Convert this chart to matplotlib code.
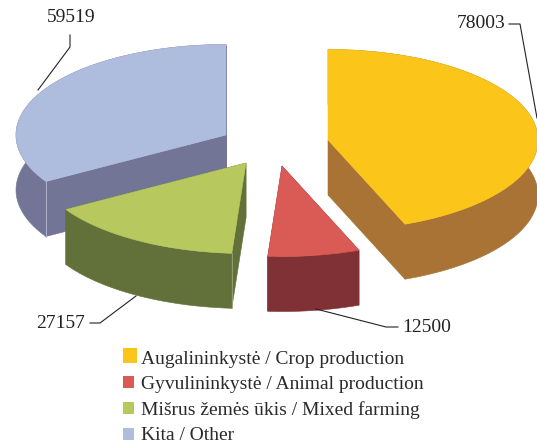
import numpy as np
import matplotlib
matplotlib.use("Agg")
import matplotlib.pyplot as plt
from matplotlib.patches import Polygon, Patch

categories = ["Augalininkystė / Crop production",
              "Gyvulininkystė / Animal production",
              "Mišrus žemės ūkis / Mixed farming",
              "Kita / Other"]
values = [78003, 12500, 27157, 59519]
top_colors = ["#FBC51A", "#DA5A55", "#B7C85E", "#AEBDDE"]
side_colors = ["#A87334", "#7F3135", "#627139", "#737597"]
seam_colors = [None, None, "#9AA57A", "#B5B8CE"]
apexes = [(328, 140), (282, 166), (246, 163), (226, 135)]
draw_order = [3, 0, 1, 2]
RX, RY, DEPTH = 210, 90.5, 55

plt.rcParams["font.family"] = ["Liberation Serif", "DejaVu Serif"]
fig = plt.figure(figsize=(5.37, 4.45), dpi=100)
ax = fig.add_axes([0, 0, 1, 1])
ax.set_xlim(0, 537)
ax.set_ylim(445, 0)
ax.axis("off")

fracs = np.array(values) / sum(values)
edges = np.concatenate([[0], np.cumsum(fracs) * 360])


def wedge(i):
    cx, cy = apexes[i]
    t = np.radians(np.linspace(edges[i], edges[i + 1], 120))
    arc = np.column_stack([cx + RX * np.sin(t), cy - RY * np.cos(t)])
    return np.array([cx, cy]), arc


shift = np.array([0, DEPTH])
for i in draw_order:
    c, arc = wedge(i)
    side = dict(fc=side_colors[i], ec=side_colors[i], lw=0.4)
    ax.add_patch(Polygon(np.vstack([arc, (arc + shift)[::-1]]), **side))
    for p in (arc[0], arc[-1]):
        ax.add_patch(Polygon([c, p, p + shift, c + shift], **side))
    ax.add_patch(Polygon(np.vstack([c, arc]), fc=top_colors[i], ec=top_colors[i], lw=0.4))
    if seam_colors[i]:
        p = arc[0]
        ax.plot([p[0], p[0]], [p[1], p[1] + DEPTH], color=seam_colors[i], lw=0.6)

leaders = [
    ([509, 520, 537], [24, 24, 118]),
    ([316, 386, 398], [309, 327, 327]),
    ([90, 100, 136], [323, 323, 296]),
    ([70, 70, 38], [35, 47, 90]),
]
label_pos = [(481, 24), (427, 328), (61, 323), (71, 18)]
for (xs, ys), (tx, ty), v in zip(leaders, label_pos, values):
    ax.plot(xs, ys, color="#222222", lw=0.8, solid_joinstyle="miter")
    ax.text(tx, ty, str(v), ha="center", va="center", fontsize=14, color="#222222")

handles = [Patch(fc=c, ec="none") for c in top_colors]
leg = ax.legend(handles, categories, loc="upper left",
                bbox_to_anchor=(123, 350.5), bbox_transform=ax.transData,
                frameon=False, fontsize=14, labelcolor="#2a2a2a",
                handlelength=0.58, handleheight=0.58, handletextpad=0.35,
                labelspacing=0.43, borderpad=0, borderaxespad=0)
h0 = leg.legend_handles[0]
h0.set_width(h0.get_width() * 1.25)
h0.set_height(h0.get_height() * 1.25)

fig.savefig("out.png", dpi=100)
